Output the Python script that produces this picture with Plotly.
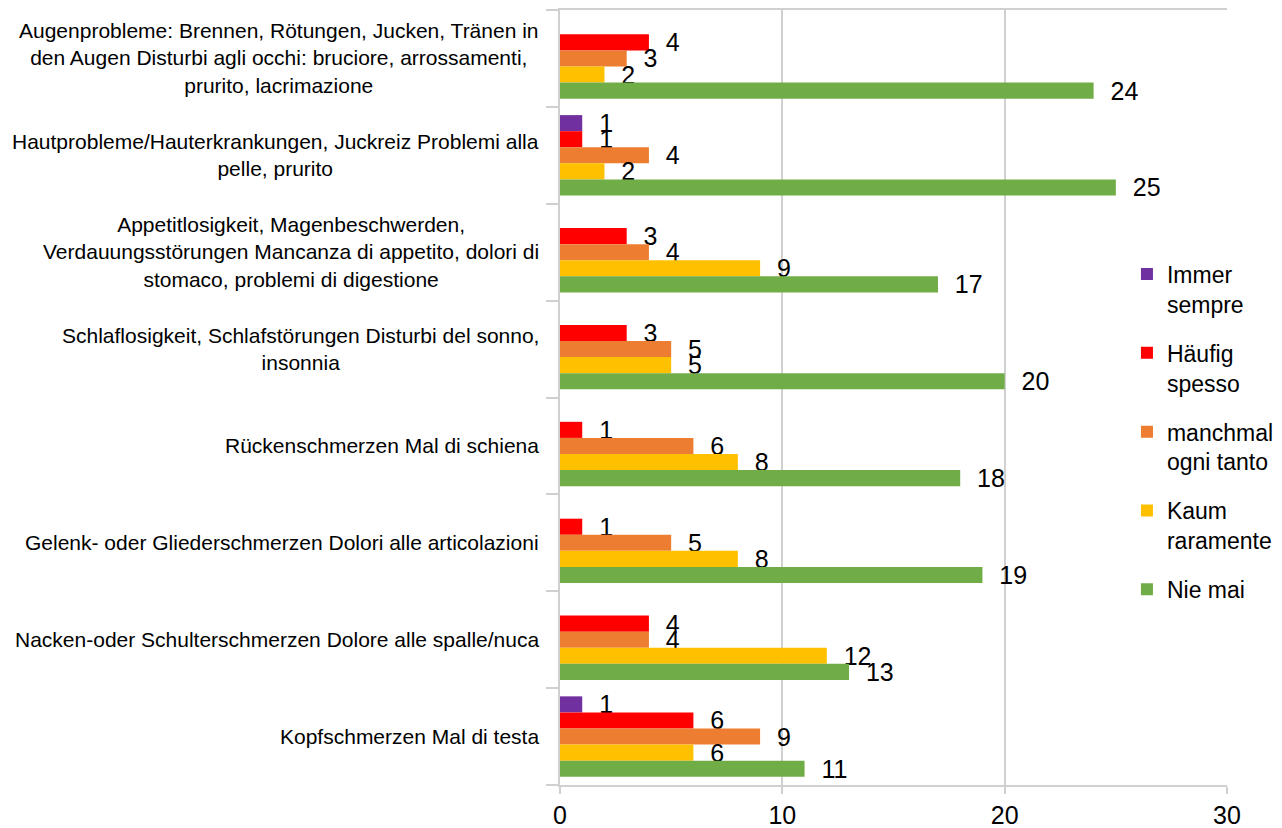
import plotly.graph_objects as go

categories = [
    "Augenprobleme: Brennen, Rötungen, Jucken, Tränen in<br>den Augen Disturbi agli occhi: bruciore, arrossamenti,<br>prurito, lacrimazione",
    "Hautprobleme/Hauterkrankungen, Juckreiz Problemi alla<br>pelle, prurito",
    "Appetitlosigkeit, Magenbeschwerden,<br>Verdauungsstörungen Mancanza di appetito, dolori di<br>stomaco, problemi di digestione",
    "Schlaflosigkeit, Schlafstörungen Disturbi del sonno,<br>insonnia",
    "Rückenschmerzen Mal di schiena",
    "Gelenk- oder Gliederschmerzen Dolori alle articolazioni",
    "Nacken-oder Schulterschmerzen Dolore alle spalle/nuca",
    "Kopfschmerzen Mal di testa",
]

series_names = ["Immer<br>sempre", "Häufig<br>spesso", "manchmal<br>ogni tanto", "Kaum<br>raramente", "Nie mai"]
immer = [0, 1, 0, 0, 0, 0, 0, 1]
haeufig = [4, 1, 3, 3, 1, 1, 4, 6]
manchmal = [3, 4, 4, 5, 6, 5, 4, 9]
kaum = [2, 2, 9, 5, 8, 8, 12, 6]
nie = [24, 25, 17, 20, 18, 19, 13, 11]
series_values = [immer, haeufig, manchmal, kaum, nie]
colors = ["#7030A0", "#FF0000", "#ED7D31", "#FFC000", "#70AD47"]
x_ticks = [0, 10, 20, 30]

FONT = "Liberation Sans, Arial, sans-serif"
GRID = "#d0d0d0"

fig = go.Figure()
for i, (name, vals, col) in enumerate(zip(series_names, series_values, colors)):
    fig.add_trace(go.Bar(
        y=list(range(len(categories))),
        x=vals,
        orientation="h",
        name=name,
        marker=dict(color=col, line=dict(width=0)),
        text=["\u00a0\u00a0" + str(v) if v else "" for v in vals],
        textposition="outside",
        textangle=0,
        constraintext="none",
        cliponaxis=False,
        textfont=dict(family=FONT, size=25, color="#000000"),
        legendgroup=f"g{i}",
        hoverinfo="x+name",
    ))

for j, cat in enumerate(categories):
    fig.add_annotation(
        x=0, xref="paper", y=j, yref="y",
        text=cat, showarrow=False,
        xanchor="right", yanchor="middle", align="center",
        xshift=-19,
        font=dict(family=FONT, size=21, color="#000000"),
    )

fig.update_layout(
    width=1274, height=820,
    margin=dict(l=552, r=55, t=2, b=43),
    paper_bgcolor="white", plot_bgcolor="white",
    barmode="group", bargap=0.17, bargroupgap=0,
    font=dict(family=FONT, color="#000000"),
    legend=dict(
        x=0.85, xanchor="left", y=0.687, yanchor="top",
        xref="paper", yref="paper",
        bgcolor="rgba(0,0,0,0)",
        font=dict(family=FONT, size=23, color="#000000"),
        valign="top", tracegroupgap=16, traceorder="grouped",
    ),
    showlegend=True,
)

fig.update_xaxes(
    range=[0, 30], tickvals=x_ticks, ticktext=[str(t) for t in x_ticks],
    showgrid=True, gridcolor=GRID, gridwidth=1.5,
    showline=True, linecolor=GRID, linewidth=1.5, mirror=True,
    ticks="outside", ticklen=7, tickcolor=GRID, tickwidth=1.5,
    zeroline=False, automargin=False,
    tickfont=dict(family=FONT, size=25, color="#000000"),
)
fig.update_yaxes(
    type="linear", range=[len(categories) - 0.5, -0.5],
    tickvals=[k - 0.5 for k in range(len(categories) + 1)],
    showticklabels=False,
    showgrid=False, zeroline=False,
    showline=True, linecolor=GRID, linewidth=1.5,
    ticks="outside", ticklen=12, tickcolor=GRID, tickwidth=1.5,
    automargin=False,
)

fig.write_html("out.html")
